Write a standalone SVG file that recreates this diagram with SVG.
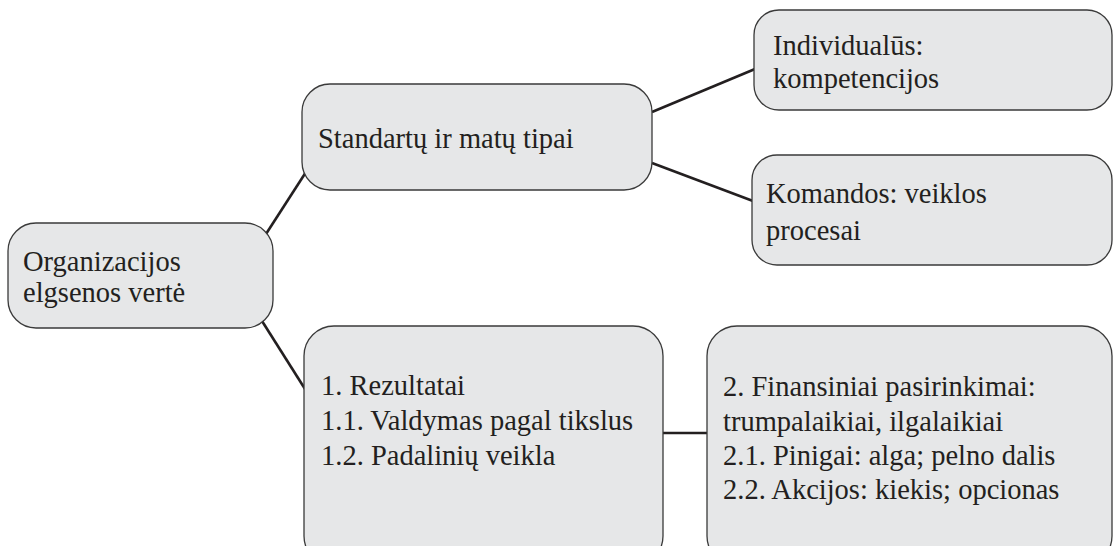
<svg xmlns="http://www.w3.org/2000/svg" width="1113" height="546" viewBox="0 0 1113 546">
<style>
.box{fill:#e6e7e8;stroke:#3a3a3a;stroke-width:1.3}
.t{font-family:"Liberation Serif","Times New Roman",serif;font-size:28.5px;fill:#231f20}
.c{stroke:#231f20;stroke-width:2.6;fill:none}
</style>
<rect width="1113" height="546" fill="#ffffff"/>
<g id="connectors">
<line class="c" x1="266" y1="234" x2="306" y2="172"/>
<line class="c" x1="652" y1="112" x2="755" y2="69"/>
<line class="c" x1="652" y1="163" x2="753" y2="201"/>
<line class="c" x1="262" y1="321" x2="305" y2="389"/>
<line class="c" x1="663" y1="433" x2="707" y2="433"/>
</g>
<g id="n1">
<rect class="box" x="8" y="223" width="265" height="105" rx="28" ry="28"/>
<text class="t" x="23" y="271">Organizacijos</text>
<text class="t" x="23" y="302">elgsenos vertė</text>
</g>
<g id="n2">
<rect class="box" x="302" y="84" width="350" height="106" rx="28" ry="28"/>
<text class="t" x="318" y="148">Standartų ir matų tipai</text>
</g>
<g id="n3">
<rect class="box" x="754" y="10" width="358" height="100" rx="25" ry="25"/>
<text class="t" x="773" y="55">Individualūs:</text>
<text class="t" x="773" y="88">kompetencijos</text>
</g>
<g id="n4">
<rect class="box" x="752" y="155" width="360" height="110" rx="25" ry="25"/>
<text class="t" x="766" y="203">Komandos: veiklos</text>
<text class="t" x="766" y="240">procesai</text>
</g>
<g id="n5">
<rect class="box" x="304" y="326" width="359" height="240" rx="30" ry="30"/>
<text class="t" x="321" y="395">1. Rezultatai</text>
<text class="t" x="321" y="430">1.1. Valdymas pagal tikslus</text>
<text class="t" x="321" y="465">1.2. Padalinių veikla</text>
</g>
<g id="n6">
<rect class="box" x="707" y="326" width="405" height="240" rx="30" ry="30"/>
<text class="t" x="723" y="396">2. Finansiniai pasirinkimai:</text>
<text class="t" x="723" y="431">trumpalaikiai, ilgalaikiai</text>
<text class="t" x="723" y="465">2.1. Pinigai: alga; pelno dalis</text>
<text class="t" x="723" y="499">2.2. Akcijos: kiekis; opcionas</text>
</g>
</svg>
